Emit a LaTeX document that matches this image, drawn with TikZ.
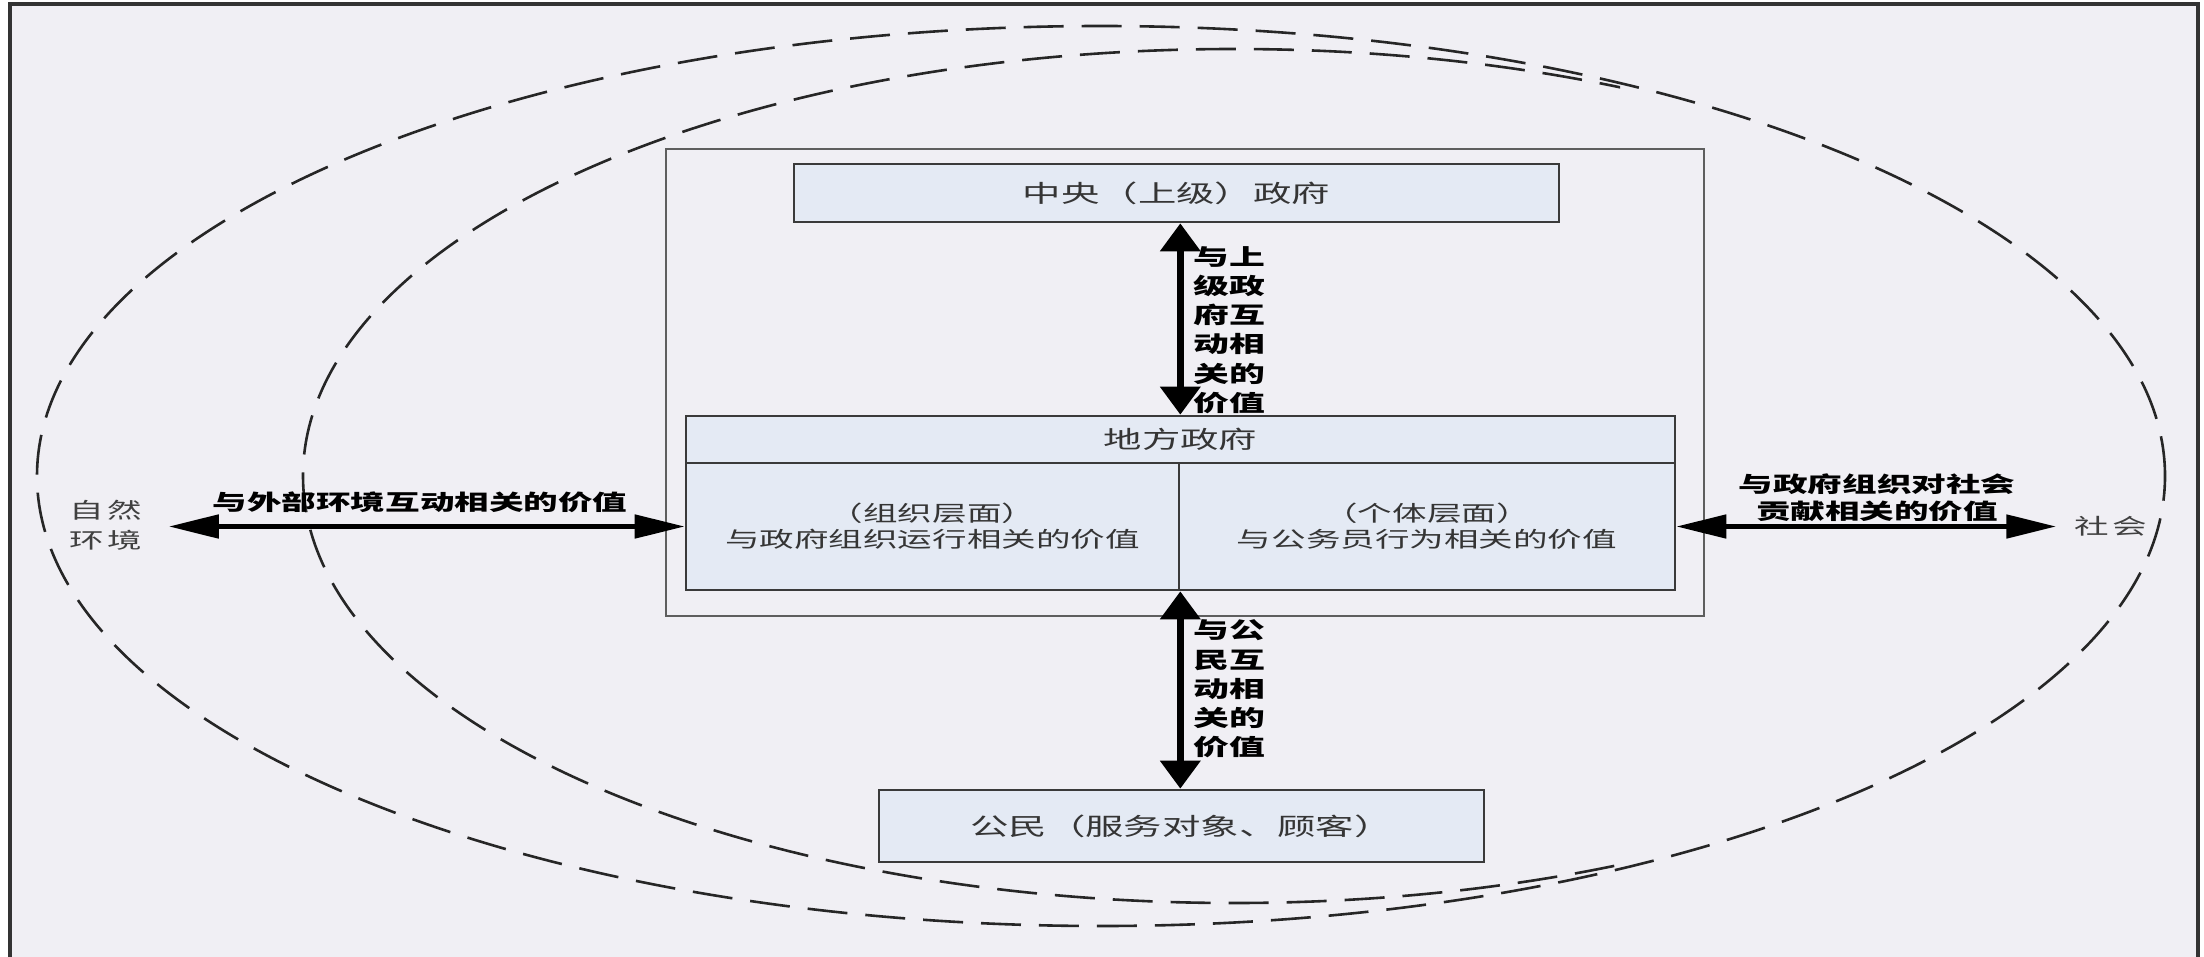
\documentclass[tikz,border=0pt]{standalone}
\usepackage{fontspec}
\newfontfamily\cjk[FakeStretch=1.6]{Noto Sans CJK SC}
\usetikzlibrary{arrows.meta}
\definecolor{bgc}{HTML}{F0EFF4}
\definecolor{boxc}{HTML}{E4EAF4}
\definecolor{txtc}{HTML}{353535}
\definecolor{framec}{HTML}{5E5E5E}
\definecolor{edgec}{HTML}{3A3A3A}
\begin{document}
\begin{tikzpicture}[x=0.5pt,y=-0.5pt,
  boxnode/.style={draw=edgec, fill=boxc, line width=1.3pt, inner sep=0pt, text=txtc},
  headtext/.style={font=\cjk\fontsize{12}{14}\selectfont},
  celltext/.style={font=\cjk\fontsize{10.8}{13}\selectfont, align=center},
  vlab/.style={font=\cjk\bfseries\fontsize{11.2}{14.6}\selectfont, align=left, inner sep=0pt, text=black},
  hlab/.style={font=\cjk\bfseries\fontsize{10.8}{13.5}\selectfont, align=center, inner sep=0pt, text=black},
  place/.style={font=\cjk\fontsize{10.8}{15}\selectfont, align=center, inner sep=0pt, text=black!75},
  ring/.style={draw=black!85, line width=1.3pt, dash pattern=on 20pt off 9pt},
  harrow/.style={line width=2.5pt, {Triangle[length=25pt,width=11.5pt]}-{Triangle[length=25pt,width=11.5pt]}},
  varrow/.style={line width=3.5pt, {Triangle[length=14pt,width=19.5pt]}-{Triangle[length=14pt,width=19.5pt]}}
]
\useasboundingbox (0,0) rectangle (2204,957);
\fill[white] (0,0) rectangle (2204,957);
\fill[bgc] (10,4) rectangle (2198,957);
\draw[line width=2pt, black!80] (10,957) -- (10,4) -- (2198,4) -- (2198,957);

% dashed rings
\draw[ring] (1101,476) ellipse [x radius=532pt, y radius=225pt];
\begin{scope}
  \clip (0,0) rectangle (1620,957);
  \draw[ring] (1234,476) ellipse [x radius=465.5pt, y radius=213.5pt];
\end{scope}

% frame
\node[draw=framec, line width=1.1pt, minimum width=519pt, minimum height=233.5pt, inner sep=0pt] (frame) at (1185,382.5) {};

% boxes
\node[boxnode, headtext, minimum width=382.5pt, minimum height=29pt] (top) at (1176.5,193) {中央（上级）政府};
\node[boxnode, headtext, minimum width=494.5pt, minimum height=23.5pt] (head) at (1180.5,439.5) {地方政府};
\node[boxnode, celltext, minimum width=246.5pt, minimum height=63.5pt] (lcell) at (932.5,526.5) {（组织层面）\\与政府组织运行相关的价值};
\node[boxnode, celltext, minimum width=248pt, minimum height=63.5pt] (rcell) at (1427,526.5) {（个体层面）\\与公务员行为相关的价值};
\node[boxnode, headtext, minimum width=302.5pt, minimum height=36pt] (cit) at (1181.5,826) {公民（服务对象、顾客）};

% places
\node[place] (nature) at (106,525) {自\,然\\环\,境};
\node[place] (society) at (2111,526) {社\,会};

% arrows
\draw[varrow] (top.south -| lcell.east) -- (head.north -| lcell.east);
\draw[varrow] (lcell.south east) -- (cit.north -| lcell.east);
\draw[harrow, shorten <=13pt] (nature.east |- lcell.west) -- (lcell.west);
\draw[harrow, shorten >=9pt] (rcell.east) -- (society.west |- rcell.east);

% labels
\node[vlab, anchor=west] (ulab) at (1193,330) {与上\\级政\\府互\\动相\\关的\\价值};
\node[vlab, anchor=west] (dlab) at (1193,689) {与公\\民互\\动相\\关的\\价值};
\node[hlab] (llab) at (420,502) {与外部环境互动相关的价值};
\node[hlab] (rlab) at (1877,498) {与政府组织对社会\\贡献相关的价值};
\end{tikzpicture}
\end{document}
